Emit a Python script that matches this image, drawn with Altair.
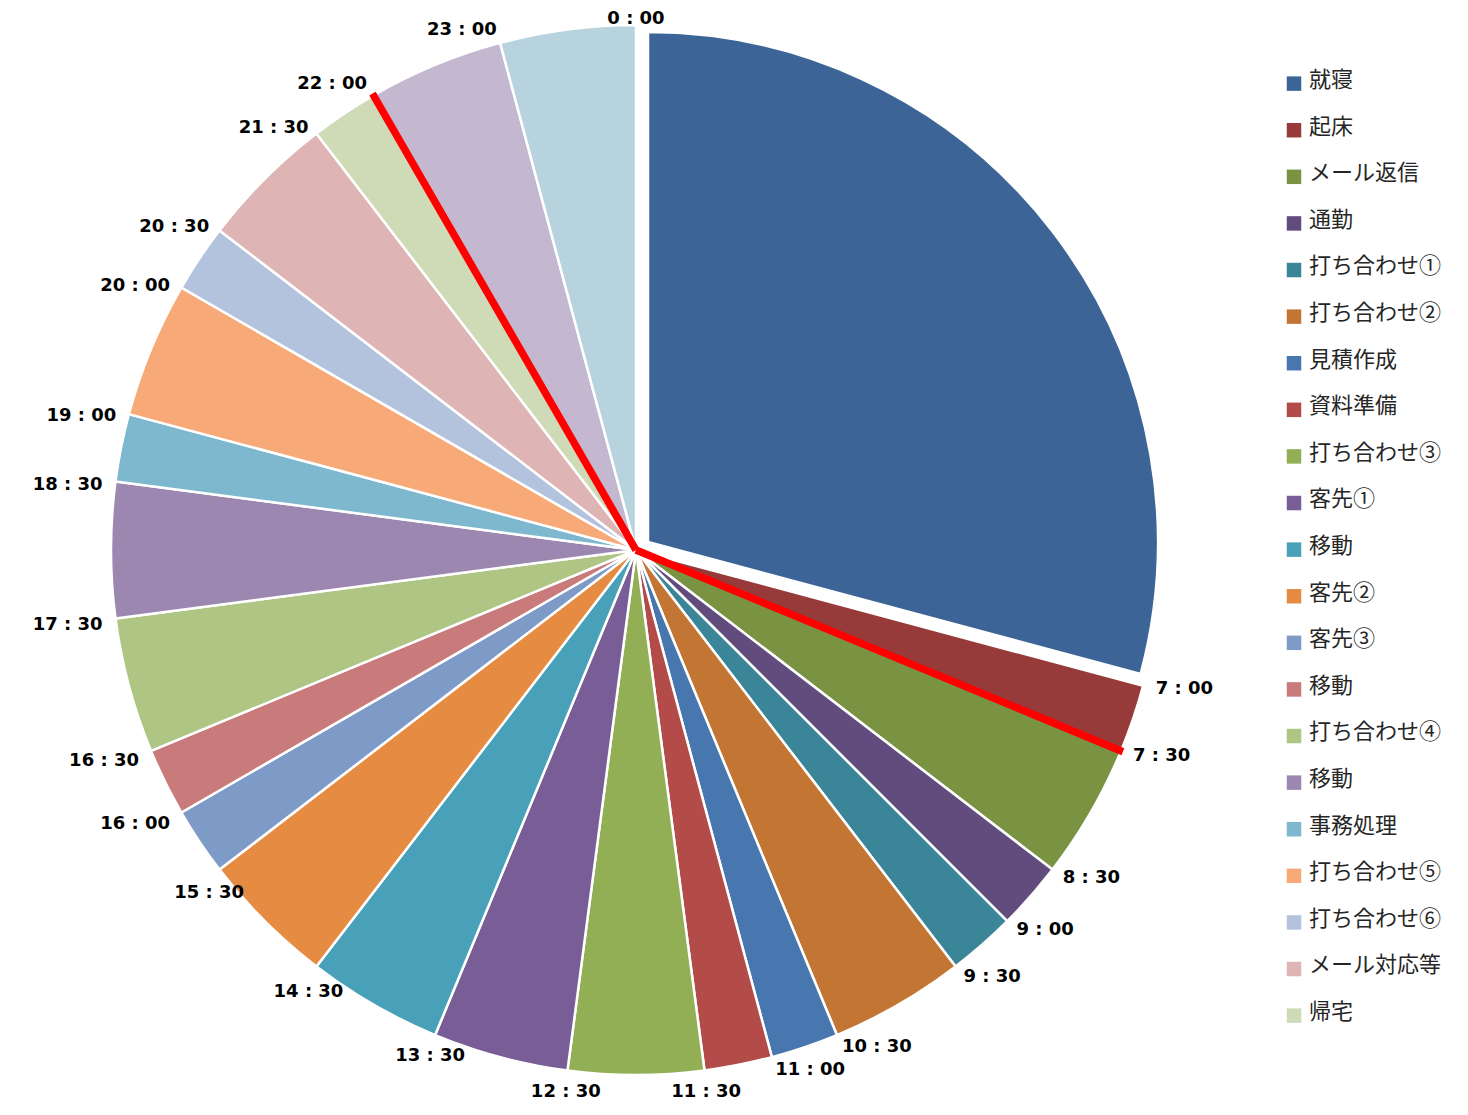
import math
import altair as alt
import pandas as pd

# ---- data -------------------------------------------------------------
names = ["就寝", "起床", "メール返信", "通勤", "打ち合わせ①", "打ち合わせ②",
         "見積作成", "資料準備", "打ち合わせ③", "客先①", "移動", "客先②",
         "客先③", "移動", "打ち合わせ④", "移動", "事務処理", "打ち合わせ⑤",
         "打ち合わせ⑥", "メール対応等", "帰宅", "その他①", "その他②"]
hours = [7, 0.5, 1, 0.5, 0.5, 1,
         0.5, 0.5, 1, 1, 1, 1,
         0.5, 0.5, 1, 1, 0.5, 1,
         0.5, 1, 0.5, 1, 1]
time_labels = ["0 : 00", "7 : 00", "7 : 30", "8 : 30", "9 : 00", "9 : 30",
               "10 : 30", "11 : 00", "11 : 30", "12 : 30", "13 : 30", "14 : 30",
               "15 : 30", "16 : 00", "16 : 30", "17 : 30", "18 : 30", "19 : 00",
               "20 : 00", "20 : 30", "21 : 30", "22 : 00", "23 : 00"]
colors = ["#3D6496", "#973B3A", "#7A9343", "#624C7D", "#3A8597", "#C37633",
          "#4877AF", "#B34B49", "#93AF56", "#785D96", "#48A1B8", "#E68B42",
          "#7E9AC7", "#C97A7A", "#AEC584", "#9C87B0", "#7DB8CE", "#F7A977",
          "#B3C2DD", "#DEB4B4", "#CFDBB7", "#C3B8D0", "#B6D3DE"]
divider_times = [7.5, 22.0]
legend_count = 21

# unique keys for duplicate names (zero-width space suffix, invisible)
keys = []
for n in names:
    k = n
    while k in keys:
        k += "\u200b"
    keys.append(k)

df = pd.DataFrame({"order": list(range(len(names))), "key": keys,
                   "hours": hours, "label": time_labels})
lines_df = pd.DataFrame({"t": divider_times})

# ---- layout / style ---------------------------------------------------
CX, CY = 628, 542
R = 525

theta_scale = alt.Scale(domain=[0, 24], range=[0, 2 * math.pi], nice=False, zero=True)

base = alt.Chart(df).transform_window(
    end="sum(hours)", sort=[alt.SortField("order")], frame=[None, 0]
).transform_calculate(start="datum.end - datum.hours")

color_enc = alt.Color(
    "key:N",
    scale=alt.Scale(domain=keys, range=colors),
    legend=alt.Legend(
        title=None, orient="none", legendX=1275, legendY=61, direction="vertical",
        values=keys[:legend_count], symbolType="M-1,-0.5H1V1.5H-1Z", symbolSize=210,
        symbolStrokeWidth=0, labelFont="Noto Sans CJK JP", labelFontSize=22,
        labelColor="#262626", labelOffset=4, rowPadding=24.6, padding=0, labelLimit=400,
    ),
)

theta_enc = alt.Theta("start:Q", scale=theta_scale, stack=False)

slices = base.transform_filter("datum.order > 0").mark_arc(
    outerRadius=R, stroke="white", strokeWidth=2.5
).encode(theta=theta_enc, theta2="end:Q", color=color_enc,
         x=alt.value(CX), y=alt.value(CY))

exploded = base.transform_filter("datum.order == 0").mark_arc(
    outerRadius=510, stroke="white", strokeWidth=2.5, xOffset=12, yOffset=-8
).encode(theta=theta_enc, theta2="end:Q", color=color_enc,
         x=alt.value(CX), y=alt.value(CY))

dividers = alt.Chart(lines_df).mark_arc(
    outerRadius=527, stroke="#FF0000", strokeWidth=7.5, fillOpacity=0
).encode(theta=alt.Theta("t:Q", scale=theta_scale, stack=False), theta2="t:Q",
         x=alt.value(CX), y=alt.value(CY))

align_expr = ("datum.start < 0.01 ? 'center' : datum.start < 11.25 ? 'left' : "
              "datum.start < 15.75 ? 'center' : 'right'")
baseline_expr = ("datum.start < 0.01 ? 'alphabetic' : "
                 "(datum.start > 11.25 && datum.start < 15.75) ? 'top' : 'middle'")
radius_expr = "datum.start < 0.01 ? 526 : 538"
dy_expr = "datum.start > 15.75 && datum.start < 21.75 ? 5 : (datum.start > 14 && datum.start < 15.75 ? 6 : 0)"

labels = base.mark_text(
    radius={"expr": radius_expr}, font="DejaVu Sans", fontSize=18, fontWeight="bold",
    color="black", align={"expr": align_expr}, baseline={"expr": baseline_expr},
    dy={"expr": dy_expr}
).encode(theta=theta_enc, text="label:N", x=alt.value(CX), y=alt.value(CY))

chart = alt.layer(slices, exploded, dividers, labels).properties(
    width=1260, height=1084, padding=0
).configure_view(stroke=None)

chart.save("out.html", embed_options={"renderer": "svg", "actions": False})
